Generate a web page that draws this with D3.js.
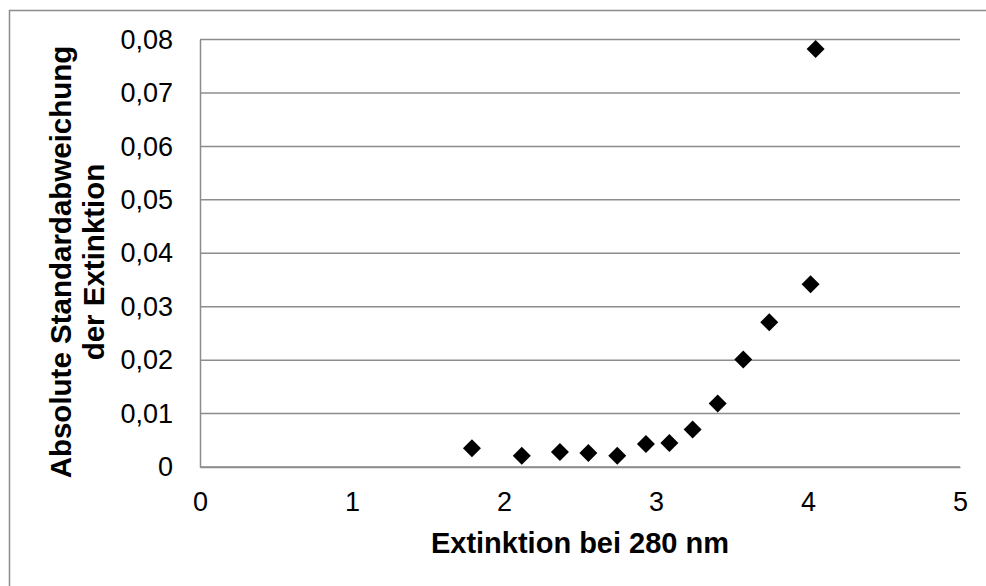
<!DOCTYPE html>
<html><head><meta charset="utf-8">
<script src="https://cdn.jsdelivr.net/npm/d3@7"></script>
<style>body{margin:0;background:#fff}svg{display:block}</style>
</head><body>
<script>
const xValues = [1.789, 2.117, 2.368, 2.555, 2.745, 2.934, 3.088, 3.241, 3.406, 3.574, 3.745, 4.017, 4.05];
const yValues = [0.0035, 0.0021, 0.0028, 0.0026, 0.0021, 0.0043, 0.0045, 0.0070, 0.0119, 0.0201, 0.0271, 0.0342, 0.0782];
const xTicks = [0, 1, 2, 3, 4, 5];
const yTicks = [0, 0.01, 0.02, 0.03, 0.04, 0.05, 0.06, 0.07, 0.08];
const xTitle = "Extinktion bei 280 nm";
const yTitleLines = ["Absolute Standardabweichung", "der Extinktion"];

const W = 986, H = 586;
const svg = d3.select("body").append("svg").attr("width", W).attr("height", H);
const font = "'Liberation Sans', Arial, sans-serif";

svg.append("rect").attr("x", 9.5).attr("y", 10.5).attr("width", 990).attr("height", 590)
  .attr("fill", "none").attr("stroke", "#8c8c8c").attr("stroke-width", 1.5);

const x = d3.scaleLinear().domain([0, 5]).range([200, 960]);
const y = d3.scaleLinear().domain([0, 0.08]).range([467, 39.5]);
const fmt = v => v === 0 ? "0" : d3.format(".2f")(v).replace(".", ",");

// gridlines
svg.append("g").selectAll("line").data(yTicks).join("line")
  .attr("x1", x(0)).attr("x2", x(5)).attr("y1", d => y(d)).attr("y2", d => y(d))
  .attr("stroke", "#8c8c8c").attr("stroke-width", 1.5);

// y axis
const yAxis = svg.append("g").attr("transform", `translate(${x(0)},0)`)
  .call(d3.axisLeft(y).tickValues(yTicks).tickFormat(fmt).tickSize(0).tickPadding(27));
yAxis.select(".domain").attr("stroke", "#8c8c8c").attr("stroke-width", 1.5);
yAxis.selectAll("text").attr("font-family", font).attr("font-size", 27).attr("fill", "#000");

// x axis
const xAxis = svg.append("g").attr("transform", `translate(0,${y(0)})`)
  .call(d3.axisBottom(x).tickValues(xTicks).tickFormat(d3.format("d")).tickSize(0).tickPadding(25));
xAxis.select(".domain").attr("stroke", "#8c8c8c").attr("stroke-width", 1.5);
xAxis.selectAll("text").attr("font-family", font).attr("font-size", 27).attr("fill", "#000");

// points
const pts = xValues.map((v, i) => [v, yValues[i]]);
svg.append("g").selectAll("path").data(pts).join("path")
  .attr("d", "M0,-9L9,0L0,9L-9,0Z")
  .attr("transform", d => `translate(${x(d[0])},${y(d[1])})`)
  .attr("fill", "#000");

// titles
svg.append("text").attr("x", 580).attr("y", 553).attr("text-anchor", "middle")
  .attr("font-family", font).attr("font-size", 29).attr("font-weight", "bold").text(xTitle);

const yt = svg.append("text").attr("transform", "translate(71,262) rotate(-90)")
  .attr("text-anchor", "middle").attr("font-family", font).attr("font-size", 29.5).attr("font-weight", "bold");
yTitleLines.forEach((t, i) => yt.append("tspan").attr("x", 0).attr("dy", i === 0 ? 0 : 33).text(t));
</script>
</body></html>
